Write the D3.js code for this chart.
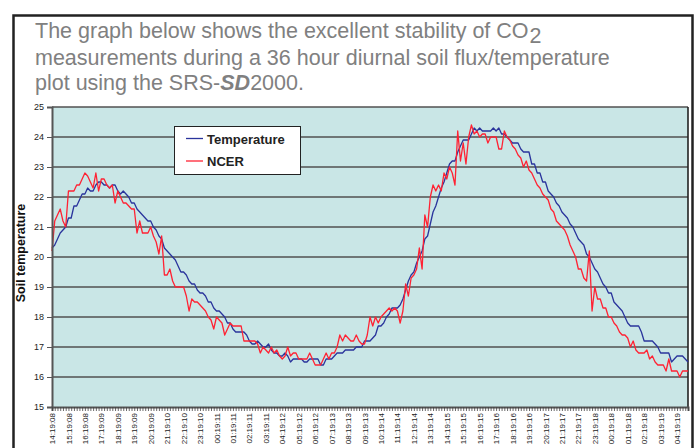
<!DOCTYPE html>
<html>
<head>
<meta charset="utf-8">
<script src="https://cdn.jsdelivr.net/npm/d3@7"></script>
<style>
  body { margin: 0; background: #fff; }
  svg { display: block; }
</style>
</head>
<body>
<svg id="chart" width="696" height="448"></svg>
<script>
// readings every 10 minutes, first one at 14:19:08
var temperature = [
  20.3,20.4,20.6,20.8,20.9,21.0,21.3,21.3,21.7,21.7,
  21.9,22.1,22.1,22.3,22.2,22.2,22.4,22.5,22.5,22.4,
  22.4,22.3,22.4,22.4,22.2,22.1,22.2,22.1,22.0,21.8,
  21.8,21.6,21.5,21.4,21.3,21.2,21.2,21.0,20.9,20.7,
  20.6,20.3,20.2,20.1,20.0,19.9,19.7,19.5,19.5,19.4,
  19.2,19.1,19.1,18.9,18.8,18.8,18.7,18.5,18.5,18.3,
  18.2,18.2,18.1,18.0,17.8,17.8,17.6,17.5,17.5,17.5,
  17.5,17.4,17.2,17.1,17.1,17.2,17.1,17.0,17.0,17.1,
  16.9,16.8,16.8,16.7,16.7,16.8,16.7,16.5,16.6,16.6,
  16.6,16.6,16.5,16.5,16.6,16.6,16.6,16.6,16.4,16.4,
  16.6,16.6,16.6,16.7,16.8,16.8,16.8,16.9,16.9,16.9,
  16.9,17.0,17.0,17.0,17.2,17.2,17.2,17.3,17.4,17.7,
  17.7,17.8,18.0,18.1,18.3,18.3,18.3,18.4,18.6,18.9,
  19.2,19.4,19.5,19.8,20.0,20.2,20.6,20.7,21.1,21.5,
  21.7,22.0,22.3,22.5,22.8,23.1,23.2,23.2,23.5,23.7,
  23.9,23.9,23.9,24.1,24.3,24.2,24.3,24.2,24.2,24.2,
  24.2,24.3,24.2,24.3,24.1,24.1,24.0,23.9,23.8,23.8,
  23.8,23.6,23.5,23.5,23.5,23.1,23.1,22.8,22.8,22.5,
  22.5,22.2,22.1,22.0,21.8,21.7,21.5,21.4,21.3,21.1,
  21.0,20.8,20.6,20.5,20.4,20.1,20.0,19.8,19.6,19.5,
  19.3,19.1,19.0,18.8,18.8,18.5,18.4,18.3,18.2,18.0,
  17.8,17.7,17.7,17.7,17.7,17.5,17.2,17.2,17.2,17.2,
  17.1,17.0,16.8,16.8,16.8,16.8,16.5,16.6,16.7,16.7,
  16.7,16.6,16.5
];

var ncer = [
  20.2,21.2,21.4,21.6,21.2,21.0,22.2,22.2,22.2,22.4,
  22.4,22.6,22.8,22.7,22.5,22.3,22.8,22.2,22.6,22.6,
  22.4,22.3,22.4,21.8,22.2,22.0,21.8,21.8,21.7,21.6,
  21.6,20.8,21.2,20.8,20.8,20.8,21.0,20.7,20.5,20.1,
  20.7,19.4,19.4,19.6,19.2,19.0,19.0,19.0,19.0,18.7,
  18.2,18.6,18.5,18.5,18.4,18.3,18.2,18.0,17.9,17.6,
  18.0,17.9,17.8,17.4,17.6,17.8,17.7,17.7,17.7,17.7,
  17.2,17.2,17.2,17.2,17.2,17.1,16.8,17.0,16.9,16.8,
  17.0,16.8,16.9,16.7,16.6,16.7,17.0,16.7,16.8,16.8,
  16.6,16.6,16.6,16.6,16.8,16.6,16.4,16.4,16.4,16.6,
  16.8,16.6,16.8,16.8,17.0,17.4,17.2,17.4,17.3,17.2,
  17.2,17.4,17.2,17.1,17.1,17.4,18.0,17.7,18.0,17.8,
  18.0,18.1,18.2,18.3,18.2,18.3,18.2,17.8,18.2,19.1,
  18.7,19.3,19.4,19.6,20.3,19.6,21.4,21.0,22.0,22.4,
  22.2,22.4,22.2,22.8,22.6,23.0,22.8,22.4,24.2,23.2,
  23.8,23.1,24.0,24.4,24.1,24.2,24.0,24.1,24.1,23.8,
  24.0,24.0,24.0,23.6,23.6,24.2,24.0,23.9,23.7,23.6,
  23.4,23.3,23.0,23.2,22.9,22.8,22.6,22.4,22.3,22.1,
  22.0,21.9,21.6,21.5,21.2,21.1,21.0,20.9,20.7,20.4,
  20.2,20.0,19.6,19.6,19.3,19.2,20.2,18.2,19.0,18.6,
  18.6,18.3,18.3,18.0,18.0,17.8,17.7,17.5,17.4,17.4,
  17.3,17.0,17.2,16.9,16.8,16.8,16.8,16.9,16.6,16.7,
  16.5,16.4,16.4,16.4,16.2,16.6,16.2,16.2,16.2,16.0,
  16.2,16.2,16.2
];

// one label per hour = every 6th reading
var timeLabels = [
  "14:19:08","15:19:08","16:19:08","17:19:09","18:19:09","19:19:09","20:19:09",
  "21:19:10","22:19:10","23:19:10","00:19:11","01:19:11","02:19:11","03:19:11",
  "04:19:12","05:19:12","06:19:12","07:19:13","08:19:13","09:19:13","10:19:14",
  "11:19:14","12:19:14","13:19:14","14:19:15","15:19:15","16:19:15","17:19:16",
  "18:19:16","19:19:16","20:19:17","21:19:17","22:19:17","23:19:18","00:19:18",
  "01:19:18","02:19:18","03:19:19","04:19:19"
];
var labelStep = 6;
var yTicks = [15, 16, 17, 18, 19, 20, 21, 22, 23, 24, 25];
var seriesNames = ["Temperature", "NCER"];
var seriesColors = ["#2a349c", "#ff2233"];

var svg = d3.select("#chart");
var margin = {top: 107, right: 8, bottom: 41, left: 52},
    width = 696 - margin.left - margin.right,
    height = 448 - margin.top - margin.bottom;

// outer frame of the page box
svg.append("rect")
    .attr("x", 13.5).attr("y", 15.5)
    .attr("width", 679).attr("height", 460)
    .attr("fill", "none")
    .attr("stroke", "#222")
    .attr("stroke-width", 2.5);

// heading text
var head = svg.append("g")
    .attr("font-family", "'Liberation Sans', Arial, sans-serif")
    .attr("font-size", 21.5)
    .attr("fill", "#808080");

var l1 = head.append("text").attr("x", 35).attr("y", 38);
l1.append("tspan").text("The graph below shows the excellent stability of CO");
l1.append("tspan").attr("dy", 5).attr("dx", 1).text("2");
head.append("text").attr("x", 35).attr("y", 65)
    .text("measurements during a 36 hour diurnal soil flux/temperature");
var l3 = head.append("text").attr("x", 35).attr("y", 90);
l3.append("tspan").text("plot using the SRS-");
l3.append("tspan").attr("font-weight", 900).attr("font-style", "italic").text("SD");
l3.append("tspan").text("2000.");

var g = svg.append("g")
    .attr("transform", "translate(" + margin.left + "," + margin.top + ")");

var x = d3.scaleLinear()
    .domain([0, temperature.length - 1])
    .range([0, width]);

var y = d3.scaleLinear()
    .domain([15, 25])
    .range([height, 0]);

g.append("rect")
    .attr("width", width)
    .attr("height", height)
    .attr("fill", "#c9e6e6");

// gridlines
g.append("g")
  .selectAll("line")
  .data(yTicks.slice(1))
  .enter().append("line")
    .attr("x1", 0)
    .attr("x2", width)
    .attr("y1", function(d) { return y(d); })
    .attr("y2", function(d) { return y(d); })
    .attr("stroke", "#505050")
    .attr("stroke-width", 1.6);

// right border
g.append("line")
    .attr("x1", width).attr("x2", width)
    .attr("y1", 0).attr("y2", height)
    .attr("stroke", "#222")
    .attr("stroke-width", 1.6);

var line = d3.line()
    .x(function(d, i) { return x(i); })
    .y(function(d) { return y(d); });

[temperature, ncer].forEach(function(s, k) {
  g.append("path")
      .datum(s)
      .attr("fill", "none")
      .attr("stroke", seriesColors[k])
      .attr("stroke-width", 1.3)
      .attr("stroke-linejoin", "round")
      .attr("d", line);
});

// y axis
var yAxis = g.append("g")
    .call(d3.axisLeft(y).tickValues(yTicks).tickSize(5).tickFormat(d3.format("d")));
yAxis.select(".domain").attr("stroke", "#555").attr("stroke-width", 2);
yAxis.selectAll(".tick line").attr("stroke", "#555");
yAxis.selectAll("text")
    .attr("font-family", "'Liberation Sans', Arial, sans-serif")
    .attr("font-size", 9)
    .attr("fill", "#222")
    .attr("x", -8);

// x axis: a tick for each reading, a label every hour
var minor = g.append("g")
    .attr("transform", "translate(0," + height + ")")
    .call(d3.axisBottom(x).tickValues(d3.range(temperature.length)).tickSize(4).tickFormat(""));
minor.select(".domain").attr("stroke", "#555").attr("stroke-width", 2);
minor.selectAll(".tick line").attr("stroke", "#444").attr("stroke-width", 0.8);

var xAxis = g.append("g")
    .attr("transform", "translate(0," + height + ")")
    .call(d3.axisBottom(x)
        .tickValues(timeLabels.map(function(d, i) { return i * labelStep; }))
        .tickSize(0)
        .tickFormat(function(d) { return timeLabels[d / labelStep]; }));
xAxis.select(".domain").remove();
xAxis.selectAll("text")
    .attr("font-family", "'Liberation Sans', Arial, sans-serif")
    .attr("font-size", 8)
    .attr("fill", "#222")
    .attr("text-anchor", "end")
    .attr("transform", "rotate(-90)")
    .attr("x", -6)
    .attr("y", 0)
    .attr("dy", "0.32em");

// y axis title
svg.append("text")
    .attr("transform", "translate(25,253) rotate(-90)")
    .attr("text-anchor", "middle")
    .attr("font-family", "'Liberation Sans', Arial, sans-serif")
    .attr("font-size", 12.5)
    .attr("font-weight", "bold")
    .attr("fill", "#111")
    .text("Soil temperature");

// legend
var legend = svg.append("g").attr("transform", "translate(174,126)");
legend.append("rect")
    .attr("x", 0.5).attr("y", 0.5)
    .attr("width", 126).attr("height", 48)
    .attr("fill", "#fff")
    .attr("stroke", "#222")
    .attr("stroke-width", 1);

var item = legend.selectAll(".item")
    .data(seriesNames)
  .enter().append("g")
    .attr("transform", function(d, i) { return "translate(0," + (12.5 + i * 22.5) + ")"; });

item.append("line")
    .attr("x1", 12).attr("x2", 29)
    .attr("stroke", function(d, i) { return seriesColors[i]; })
    .attr("stroke-width", 1.3);

item.append("text")
    .attr("x", 33)
    .attr("y", 5)
    .attr("font-family", "'Liberation Sans', Arial, sans-serif")
    .attr("font-size", 13)
    .attr("font-weight", "bold")
    .attr("fill", "#222")
    .text(function(d) { return d; });
</script>
</body>
</html>
